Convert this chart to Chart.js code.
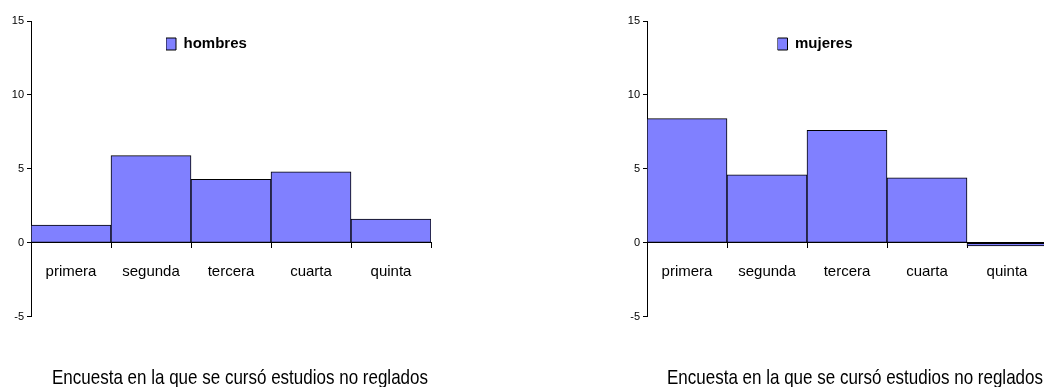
<!DOCTYPE html>
<html lang="es">
<head>
<meta charset="utf-8">
<title>Encuesta estudios no reglados</title>
<script src="https://cdn.jsdelivr.net/npm/chart.js@4.4.1/dist/chart.umd.min.js"></script>
<style>
  html, body { margin: 0; padding: 0; background: #fff; }
  #wrap { position: relative; width: 1044px; height: 387px; overflow: hidden; }
  canvas { position: absolute; top: 0; }
  #cHombres { left: 0; }
  #cMujeres { left: 600px; }
</style>
</head>
<body>
<div id="wrap">
  <canvas id="cHombres" width="460" height="387"></canvas>
  <canvas id="cMujeres" width="460" height="387"></canvas>
</div>
<script>
// Data
const categorias = ['primera', 'segunda', 'tercera', 'cuarta', 'quinta'];
const hombres = [1.2, 5.9, 4.3, 4.8, 1.6];
const mujeres = [8.4, 4.6, 7.6, 4.4, -0.2];
const ejeY = [-5, 0, 5, 10, 15];
const tituloX = 'Encuesta en la que se cursó estudios no reglados';

const FONT = 'Arial, "Liberation Sans", sans-serif';
const BAR = '#8080ff';

// legend and footer text sit inside / below the plot, so move them after layout.
// the footer box width doubles as fillText maxWidth, which squeezes the text like the original
const placeBoxes = {
  id: 'placeBoxes',
  afterLayout(chart, args, opts) {
    const lg = chart.legend;
    if (lg && opts.legend) {
      lg.left = opts.legend.x;
      lg.top = opts.legend.y;
      lg.right = lg.left + lg.width;
      lg.bottom = lg.top + lg.height;
    }
    const tb = chart.titleBlock;
    if (tb && opts.title) {
      const w = opts.title.w || tb.width;
      tb.left = opts.title.cx - w / 2;
      tb.right = opts.title.cx + w / 2;
      tb.width = w;
      tb.top = opts.title.y;
      tb.bottom = tb.top + tb.height;
    }
  }
};

function makeChart(id, label, values, o) {
  return new Chart(document.getElementById(id), {
    type: 'bar',
    data: {
      labels: categorias,
      datasets: [{
        label: label,
        data: values,
        backgroundColor: BAR,
        borderColor: '#000',
        borderWidth: 1,
        borderSkipped: false,
        categoryPercentage: 1,
        barPercentage: 1
      }]
    },
    plugins: [placeBoxes],
    options: {
      responsive: false,
      animation: false,
      layout: { padding: { left: 0, right: o.padRight, top: 21, bottom: 45 } },
      plugins: {
        tooltip: { enabled: false },
        legend: {
          position: 'chartArea',
          fullSize: false,
          align: 'start',
          labels: {
            boxWidth: 10, boxHeight: 12, padding: 0, textAlign: 'left',
            color: '#000', font: { family: FONT, size: 15, weight: 'bold' }
          }
        },
        title: {
          display: true,
          position: 'bottom',
          fullSize: false,
          text: tituloX,
          color: '#000',
          padding: 0,
          font: { family: FONT, size: 21, weight: 'normal', lineHeight: 1.2 }
        },
        placeBoxes: {
          legend: { x: o.legendX, y: 36.5 },
          title: { cx: o.titleCx, y: 365.5, w: 376 }
        }
      },
      scales: {
        x: {
          position: { y: 0 },
          offset: true,
          grid: { drawOnChartArea: false, offset: true, tickLength: 5, color: '#000' },
          border: { color: '#000', width: 1 },
          ticks: { color: '#000', padding: 15, maxRotation: 0, autoSkip: false,
                   font: { family: FONT, size: 15 } }
        },
        y: {
          min: ejeY[0],
          max: ejeY[ejeY.length - 1],
          afterFit: (scale) => { scale.width = o.yWidth; },
          grid: { drawOnChartArea: false, tickLength: 4, color: '#000' },
          border: { color: '#000', width: 1 },
          ticks: { stepSize: 5, color: '#000', padding: 3,
                   font: { family: FONT, size: 11 } }
        }
      }
    }
  });
}

makeChart('cHombres', 'hombres', hombres, { yWidth: 31, padRight: 29, legendX: 166, titleCx: 240 });
makeChart('cMujeres', 'mujeres', mujeres, { yWidth: 47, padRight: 13, legendX: 177.5, titleCx: 255 });
</script>
</body>
</html>
